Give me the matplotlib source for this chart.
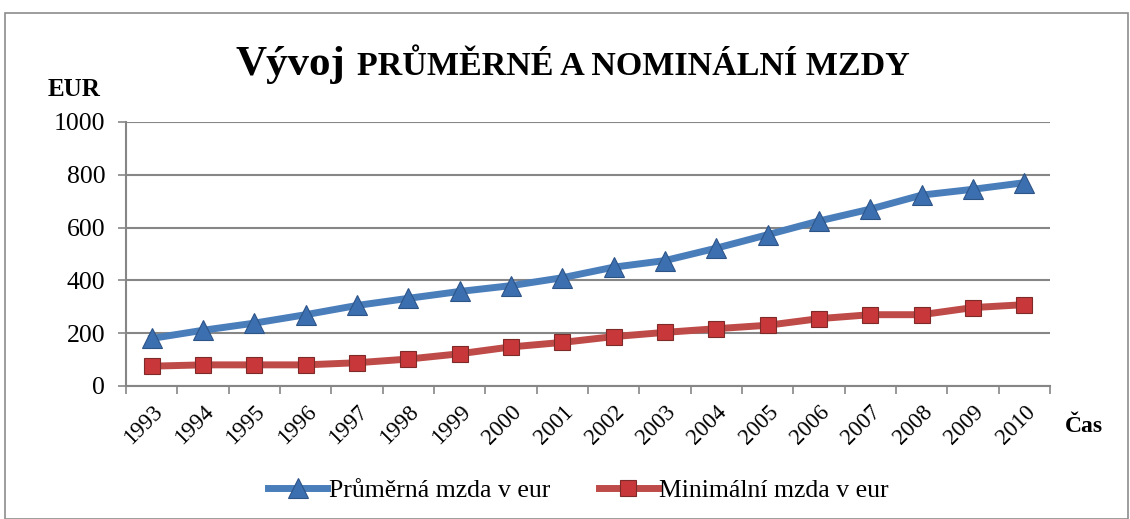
import matplotlib

matplotlib.use("Agg")
import matplotlib.pyplot as plt
import numpy as np
from matplotlib.patches import Rectangle

years = [str(y) for y in range(1993, 2011)]
prumerna = [180, 211, 238, 270, 305, 332, 358, 380, 410, 450, 475, 522, 573, 625, 670, 723, 745, 770]
minimalni = [75, 80, 80, 80, 88, 102, 122, 148, 165, 187, 203, 217, 230, 255, 270, 270, 297, 308]

plt.rcParams["font.family"] = ["Liberation Serif", "DejaVu Serif"]

fig = plt.figure(figsize=(11.3, 5.19), dpi=100)
fig.add_artist(Rectangle((0.004, 0.0), 0.994, 0.975, transform=fig.transFigure,
                         fill=False, edgecolor="#8c8c8c", linewidth=1.2))

ax = fig.add_axes([0.1115, 0.2563, 0.8177, 0.5087])
x = np.arange(len(years))

ax.plot(x, prumerna, color="#4A7EBB", linewidth=5, marker="^", markersize=14,
        markerfacecolor="#3C6FB0", markeredgecolor="#2D5487", markeredgewidth=0.8,
        label="Průměrná mzda v eur", zorder=3)
ax.plot(x, minimalni, color="#BE4B48", linewidth=5, marker="s", markersize=12,
        markerfacecolor="#C8383A", markeredgecolor="#7E2A28", markeredgewidth=0.8,
        label="Minimální mzda v eur", zorder=3)

ax.set_xlim(-0.5, len(years) - 0.5)
ax.set_ylim(0, 1000)
ax.set_yticks(range(0, 1001, 200))
ax.tick_params(axis="y", labelsize=18.5, length=6, color="#868686", width=1.2, pad=9)
ax.set_xticks(x)
ax.set_xticklabels(years, rotation=45, ha="right", rotation_mode="anchor", fontsize=16.5)
ax.tick_params(axis="x", which="major", length=0, pad=11)
ax.set_xticks(np.arange(-0.5, len(years), 1.0), minor=True)
ax.tick_params(axis="x", which="minor", length=6, color="#868686", width=1.2)

ax.grid(axis="y", color="#868686", linewidth=1.5)
ax.set_axisbelow(True)
for side in ("top", "right"):
    ax.spines[side].set_visible(False)
for side in ("left", "bottom"):
    ax.spines[side].set_color("#868686")
    ax.spines[side].set_linewidth(1.5)

fig.text(0.306, 0.855, "Vývoj", fontsize=31, fontweight="bold", ha="right", va="baseline")
fig.text(0.316, 0.855, "PRŮMĚRNÉ A NOMINÁLNÍ MZDY", fontsize=24.5, fontweight="bold",
         ha="left", va="baseline")
fig.text(0.042, 0.815, "EUR", fontsize=18, fontweight="bold", ha="left", va="baseline")
fig.text(0.942, 0.167, "Čas", fontsize=17, fontweight="bold", ha="left", va="baseline")

fig.legend(loc="center", bbox_to_anchor=(0.512, 0.055), ncol=2, frameon=False,
           fontsize=18.5, handlelength=2.3, handletextpad=0.05, columnspacing=1.9)

fig.savefig("out.png", dpi=100)
